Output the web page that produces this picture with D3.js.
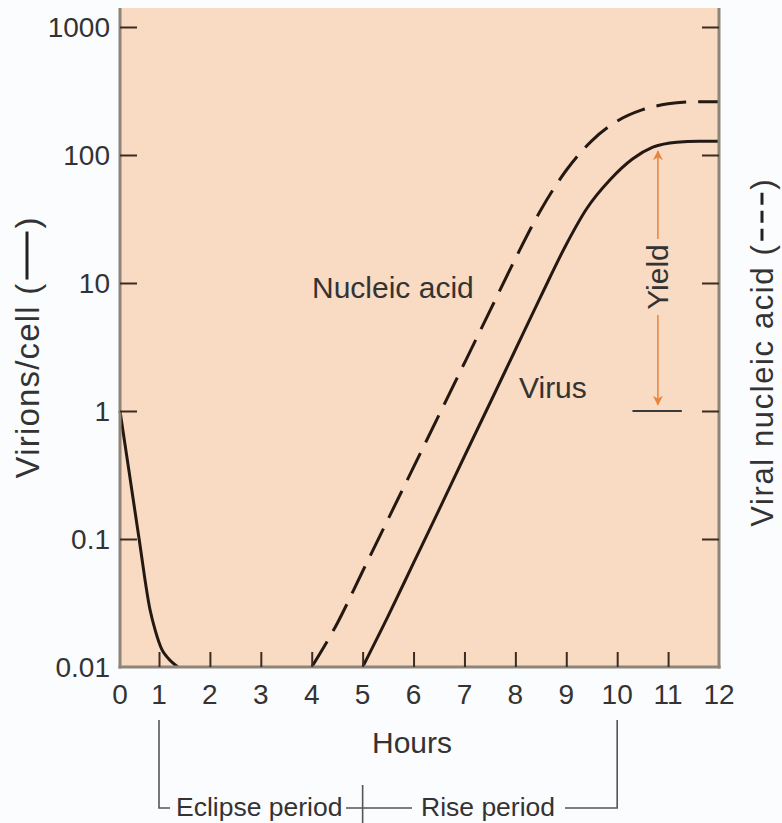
<!DOCTYPE html>
<html>
<head>
<meta charset="utf-8">
<script src="https://cdn.jsdelivr.net/npm/d3@7"></script>
<style>
  html, body { margin: 0; padding: 0; background: #fbfcfe; }
  svg { display: block; }
  text { font-family: "Liberation Sans", Arial, Helvetica, sans-serif; fill: #333; }
</style>
</head>
<body>
<script>
// ---------- data ----------
const hourTicks = [0, 1, 2, 3, 4, 5, 6, 7, 8, 9, 10, 11, 12];
const yTickValues = [0.01, 0.1, 1, 10, 100, 1000];
const yTickLabels = ["0.01", "0.1", "1", "10", "100", "1000"];

// Virus (solid) — initial decline after infection
const virusDeclineHours  = [0, 0.25, 0.49, 0.77, 0.9, 1.06, 1.18, 1.37];
const virusDeclineValues = [1, 0.31, 0.1, 0.028, 0.0195, 0.0136, 0.0117, 0.01];

// Virus (solid) — rise
const virusRiseHours  = [5.0, 5.5, 6.0, 6.5, 7.0, 7.5, 8.0, 8.5, 9.0, 9.4, 9.86, 10.3, 10.7, 11.17, 11.6, 12];
const virusRiseValues = [0.01, 0.025, 0.065, 0.169, 0.443, 1.15, 3.01, 7.86, 20, 38, 64, 93, 115, 126, 128, 128];

// Viral nucleic acid (dashed)
const nucleicHours  = [4.0, 4.5, 5.0, 5.5, 6.0, 6.5, 7.0, 7.5, 8.0, 8.5, 9.0, 9.5, 10.0, 10.5, 11.0, 11.5, 12];
const nucleicValues = [0.01, 0.0219, 0.056, 0.143, 0.364, 0.93, 2.37, 6.05, 15.5, 37.2, 76, 129, 184, 226, 251, 260, 261];

// Yield annotation
const yieldHour = 10.8;
const yieldBarHours = [10.3, 11.27];
const yieldFrom = 1.12, yieldTo = 107;

// Period brackets
const eclipseStart = 1, eclipseEnd = 5, riseEnd = 10;

// ---------- layout ----------
const W = 782, H = 823;
const plotLeft = 120, plotRight = 719, plotTop = 8, plotBottom = 667;

const svg = d3.select("body").append("svg").attr("width", W).attr("height", H);

const x = d3.scaleLinear().domain([0, 1, 12]).range([plotLeft, 159, plotRight]);
const y = d3.scaleLog().domain([0.01, 1000]).range([plotBottom, 27]);

// plot background
svg.append("rect")
  .attr("x", plotLeft).attr("y", plotTop)
  .attr("width", plotRight - plotLeft).attr("height", plotBottom - plotTop)
  .attr("fill", "#f9dac2");

// curves
const line = d3.line().x(d => x(d[0])).y(d => y(d[1])).curve(d3.curveMonotoneX);
const ink = "#241812";

svg.append("path")
  .datum(virusDeclineHours.map((h, i) => [h, virusDeclineValues[i]]))
  .attr("d", line).attr("fill", "none").attr("stroke", ink).attr("stroke-width", 3);

svg.append("path")
  .datum(virusRiseHours.map((h, i) => [h, virusRiseValues[i]]))
  .attr("d", line).attr("fill", "none").attr("stroke", ink).attr("stroke-width", 3);

svg.append("path")
  .datum(nucleicHours.map((h, i) => [h, nucleicValues[i]]))
  .attr("d", line).attr("fill", "none").attr("stroke", ink).attr("stroke-width", 3)
  .attr("stroke-dasharray", "30 12");

// axes lines
const axisCol = "#8e8478";
svg.append("line").attr("x1", plotLeft).attr("x2", plotLeft).attr("y1", plotTop).attr("y2", plotBottom + 1.5)
  .attr("stroke", axisCol).attr("stroke-width", 3);
svg.append("line").attr("x1", plotRight).attr("x2", plotRight).attr("y1", plotTop).attr("y2", plotBottom + 1.5)
  .attr("stroke", axisCol).attr("stroke-width", 3);
svg.append("line").attr("x1", plotLeft - 1.5).attr("x2", plotRight + 1.5).attr("y1", plotBottom).attr("y2", plotBottom)
  .attr("stroke", axisCol).attr("stroke-width", 3);

const tickCol = "#3a2c24";
// left axis (ticks inward)
const leftAxis = svg.append("g").attr("transform", `translate(${plotLeft},0)`)
  .call(d3.axisRight(y).tickValues(yTickValues).tickSize(17).tickFormat(""));
leftAxis.select(".domain").remove();
leftAxis.selectAll(".tick line").attr("stroke", tickCol).attr("stroke-width", 2)
  .filter(d => d === 0.01).remove();

// left labels
svg.append("g").selectAll("text").data(yTickValues).join("text")
  .attr("x", 110).attr("y", d => y(d)).attr("dy", "0.36em")
  .attr("text-anchor", "end").attr("font-size", 28)
  .text((d, i) => yTickLabels[i]);

// right axis (ticks inward)
const rightAxis = svg.append("g").attr("transform", `translate(${plotRight},0)`)
  .call(d3.axisLeft(y).tickValues(yTickValues).tickSize(17).tickFormat(""));
rightAxis.select(".domain").remove();
rightAxis.selectAll(".tick line").attr("stroke", tickCol).attr("stroke-width", 2)
  .filter(d => d === 0.01).remove();

// bottom axis (ticks inward)
const bottomAxis = svg.append("g").attr("transform", `translate(0,${plotBottom})`)
  .call(d3.axisTop(x).tickValues(hourTicks).tickSize(15).tickFormat(""));
bottomAxis.select(".domain").remove();
bottomAxis.selectAll(".tick line").attr("stroke", tickCol).attr("stroke-width", 2)
  .filter(d => d === 0 || d === 12).remove();

svg.append("g").selectAll("text").data(hourTicks).join("text")
  .attr("x", d => x(d)).attr("y", 704)
  .attr("text-anchor", "middle").attr("font-size", 28)
  .text(d => d);

// axis title
svg.append("text").attr("x", 412).attr("y", 753).attr("text-anchor", "middle")
  .attr("font-size", 30).text("Hours");

// in-plot labels
svg.append("text").attr("x", 312).attr("y", 298).attr("font-size", 30).text("Nucleic acid");
svg.append("text").attr("x", 519).attr("y", 398).attr("font-size", 30).text("Virus");

// Yield annotation
svg.append("line")
  .attr("x1", x(yieldBarHours[0])).attr("x2", x(yieldBarHours[1]))
  .attr("y1", y(1)).attr("y2", y(1))
  .attr("stroke", "#3a3a3a").attr("stroke-width", 2);

const orange = "#e8843e";
const defs = svg.append("defs");
defs.append("marker").attr("id", "ah").attr("viewBox", "0 0 10 10")
  .attr("refX", 9).attr("refY", 5).attr("markerWidth", 10).attr("markerHeight", 12)
  .attr("markerUnits", "userSpaceOnUse").attr("orient", "auto")
  .append("path").attr("d", "M0,0 L10,5 L0,10 L3,5 Z").attr("fill", orange);

const yieldX = x(yieldHour);
const yieldMid = 277;
svg.append("line").attr("x1", yieldX).attr("x2", yieldX)
  .attr("y1", yieldMid - 38).attr("y2", y(yieldTo))
  .attr("stroke", orange).attr("stroke-width", 1.5).attr("marker-end", "url(#ah)");
svg.append("line").attr("x1", yieldX).attr("x2", yieldX)
  .attr("y1", yieldMid + 38).attr("y2", y(yieldFrom))
  .attr("stroke", orange).attr("stroke-width", 1.5).attr("marker-end", "url(#ah)");
svg.append("text")
  .attr("transform", `translate(${yieldX + 10},${yieldMid}) rotate(-90)`)
  .attr("text-anchor", "middle").attr("font-size", 30).text("Yield");

// rotated titles with line-style keys
function keyedTitle(cx, cy, label, fs, ls, keyLen, dashed) {
  const g = svg.append("g").attr("transform", `translate(${cx},${cy}) rotate(-90)`);
  const t1 = g.append("text").attr("font-size", fs).attr("letter-spacing", ls)
    .attr("dy", "0.36em").text(label + " (");
  const w1 = t1.node().getComputedTextLength();
  const t2 = g.append("text").attr("font-size", fs).attr("dy", "0.36em").text(")");
  const w2 = t2.node().getComputedTextLength();
  const gap = 3;
  const total = w1 + gap + keyLen + gap + w2;
  const x0 = -total / 2;
  t1.attr("x", x0);
  const l = g.append("line")
    .attr("x1", x0 + w1 + gap).attr("x2", x0 + w1 + gap + keyLen)
    .attr("y1", 0).attr("y2", 0)
    .attr("stroke", "#222").attr("stroke-width", 3);
  if (dashed) l.attr("stroke-dasharray", "12 6");
  t2.attr("x", x0 + w1 + gap * 2 + keyLen);
}
keyedTitle(27, 348, "Virions/cell", 33, 1.2, 48, false);
keyedTitle(762, 353, "Viral nucleic acid", 31, 1.6, 48, true);

// period brackets
const brCol = "#555";
const brY = 808, brTop = 720;
const br = svg.append("g").attr("stroke", brCol).attr("stroke-width", 1.6).attr("fill", "none");
br.append("path").attr("d", `M${x(eclipseStart)},${brTop} V${brY} H${x(eclipseStart) + 11}`);
br.append("path").attr("d", `M346,${brY} H412`);
br.append("path").attr("d", `M${x(eclipseEnd)},785 V${H}`);
br.append("path").attr("d", `M565,${brY} H${x(riseEnd)} V${brTop}`);
svg.append("text").attr("x", x(eclipseStart) + 17).attr("y", 816).attr("font-size", 26.5).text("Eclipse period");
svg.append("text").attr("x", 421).attr("y", 816).attr("font-size", 26.5).text("Rise period");
</script>
</body>
</html>
